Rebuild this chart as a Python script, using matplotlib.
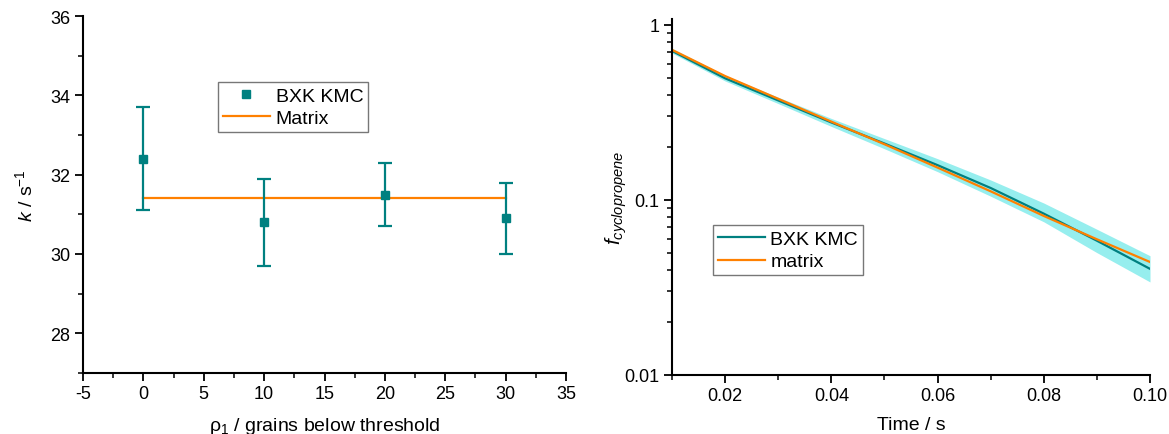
import matplotlib
matplotlib.use("Agg")
import matplotlib.pyplot as plt
from matplotlib.ticker import MultipleLocator, FixedLocator, LogLocator, NullFormatter, FixedFormatter
from matplotlib.lines import Line2D
import numpy as np

plt.rcParams['font.family'] = ['Liberation Sans', 'DejaVu Sans']
plt.rcParams['mathtext.fontset'] = 'custom'
plt.rcParams['mathtext.rm'] = 'Liberation Sans'
plt.rcParams['mathtext.it'] = 'Liberation Sans:italic'
plt.rcParams['axes.unicode_minus'] = False

# ---- left panel data ----
rho = [0, 10, 20, 30]
k_kmc = [32.4, 30.8, 31.5, 30.9]
k_err_low = [1.3, 1.1, 0.8, 0.9]
k_err_high = [1.3, 1.1, 0.8, 0.9]
matrix_x = [0, 30]
matrix_k = [31.4, 31.4]

# ---- right panel data ----
time = [0.01, 0.02, 0.03, 0.04, 0.05, 0.06, 0.07, 0.08, 0.09, 0.10]
f_kmc = [0.71, 0.495, 0.37, 0.277, 0.21, 0.158, 0.117, 0.0835, 0.0585, 0.0404]
f_kmc_upper = [0.735, 0.515, 0.386, 0.292, 0.224, 0.172, 0.130, 0.096, 0.068, 0.048]
f_kmc_lower = [0.69, 0.478, 0.355, 0.263, 0.196, 0.145, 0.105, 0.075, 0.050, 0.034]
f_matrix = [0.72, 0.51, 0.378, 0.28, 0.208, 0.153, 0.112, 0.081, 0.0596, 0.0442]

teal = '#008080'
orange = '#FF8000'
band = '#40E0E0'

fig = plt.figure(figsize=(11.69, 4.35), dpi=100)
ax1 = fig.add_axes([83/1169, 1-374/435, 483/1169, 357/435])
ax2 = fig.add_axes([672/1169, 1-376/435, 478/1169, 356/435])

for ax in (ax1, ax2):
    for s in ('top', 'right'):
        ax.spines[s].set_visible(False)
    for s in ('left', 'bottom'):
        ax.spines[s].set_linewidth(1.5)
    ax.tick_params(which='major', direction='out', length=6, width=1.3, labelsize=13, pad=3)
    ax.tick_params(which='minor', direction='out', length=3.5, width=1.1)

# left
ax1.errorbar(rho, k_kmc, yerr=[k_err_low, k_err_high], fmt='s', color=teal, ms=6,
             ecolor=teal, elinewidth=1.6, capsize=5, capthick=1.6, zorder=3)
ax1.plot(matrix_x, matrix_k, color=orange, lw=1.6, zorder=2)
ax1.set_xlim(-5, 35)
ax1.set_ylim(27, 36)
ax1.xaxis.set_major_locator(MultipleLocator(5))
ax1.xaxis.set_minor_locator(MultipleLocator(2.5))
ax1.yaxis.set_major_locator(FixedLocator([28, 30, 32, 34, 36]))
ax1.yaxis.set_minor_locator(MultipleLocator(1))
ax1.set_xlabel(r'$\mathrm{\rho}_1$ / grains below threshold', fontsize=14, labelpad=9)
ax1.set_ylabel(r'$k$ / s$^{-1}$', fontsize=14, labelpad=10)
h1 = [Line2D([], [], ls='none', marker='s', color=teal, ms=6),
      Line2D([], [], color=orange, lw=1.6)]
leg1 = ax1.legend(h1, ['BXK KMC', 'Matrix'], loc='upper left', bbox_to_anchor=(0.28, 0.815),
                  fontsize=14, frameon=True, fancybox=False, edgecolor='#555555',
                  handlelength=2.4, borderpad=0.25, labelspacing=0.25, handletextpad=0.3,
                  borderaxespad=0)
leg1.get_frame().set_linewidth(1.0)

# right
ax2.fill_between(time, f_kmc_lower, f_kmc_upper, color=band, alpha=0.55, lw=0)
ax2.plot(time, f_kmc, color=teal, lw=1.6, label='BXK KMC')
ax2.plot(time, f_matrix, color=orange, lw=1.6, label='matrix')
ax2.set_yscale('log')
ax2.set_xlim(0.01, 0.10)
ax2.set_ylim(0.01, 1.08)
ax2.xaxis.set_major_locator(FixedLocator([0.02, 0.04, 0.06, 0.08, 0.10]))
ax2.xaxis.set_major_formatter(FixedFormatter(['0.02', '0.04', '0.06', '0.08', '0.10']))
ax2.xaxis.set_minor_locator(FixedLocator([0.01, 0.03, 0.05, 0.07, 0.09]))
ax2.yaxis.set_major_locator(FixedLocator([0.01, 0.1, 1]))
ax2.yaxis.set_major_formatter(FixedFormatter(['0.01', '0.1', '1']))
ax2.yaxis.set_minor_locator(LogLocator(base=10, subs=np.arange(2, 10)))
ax2.yaxis.set_minor_formatter(NullFormatter())
ax2.set_xlabel('Time / s', fontsize=14, labelpad=8)
ax2.set_ylabel(r'$f_{cyclopropene}$', fontsize=15, labelpad=-3)
leg2 = ax2.legend(loc='upper left', bbox_to_anchor=(0.086, 0.42), fontsize=14,
                  frameon=True, fancybox=False, edgecolor='#555555', handlelength=2.4,
                  borderpad=0.25, labelspacing=0.25, handletextpad=0.3, borderaxespad=0)
leg2.get_frame().set_linewidth(1.0)

fig.savefig('out.png', dpi=100)
